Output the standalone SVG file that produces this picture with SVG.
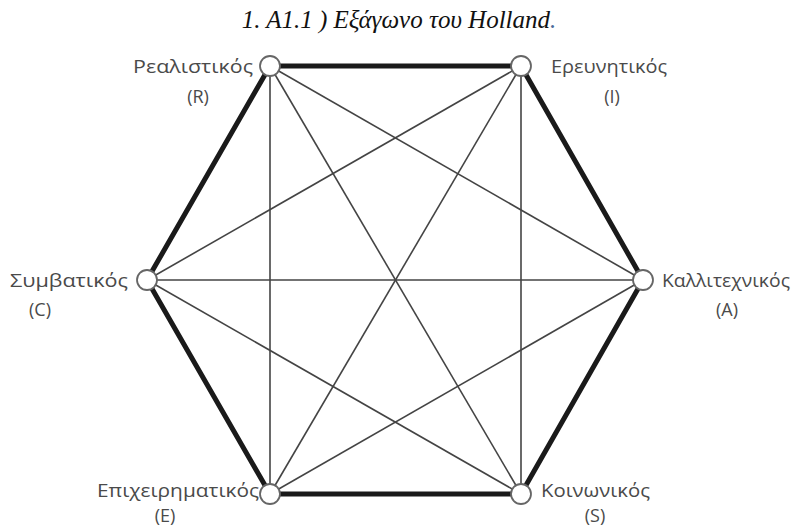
<svg xmlns="http://www.w3.org/2000/svg" width="795" height="527" viewBox="0 0 795 527">
<style>
.title{font-family:"Liberation Serif","Times New Roman",serif;font-style:italic;font-size:25px;fill:#111;}
.lbl{font-family:"Open Sans","Liberation Sans",sans-serif;font-size:18px;fill:#4a4a4a;}
.edge{stroke:#1a1a1a;stroke-width:5;stroke-linecap:round;fill:none;}
.diag{stroke:#444;stroke-width:1.6;fill:none;}
.node{fill:#fff;stroke:#666;stroke-width:1.8;}
</style>
<rect width="795" height="527" fill="#fff"/>
<text class="title" x="399" y="28" text-anchor="middle">1. A1.1 ) Εξάγωνο του Holland<tspan fill="#4a6a9a">.</tspan></text>
<g id="connectors">
<line class="diag" x1="270" y1="66" x2="643" y2="280"/>
<line class="diag" x1="270" y1="66" x2="521" y2="494"/>
<line class="diag" x1="270" y1="66" x2="270" y2="494"/>
<line class="diag" x1="521" y1="66" x2="147" y2="280"/>
<line class="diag" x1="521" y1="66" x2="270" y2="494"/>
<line class="diag" x1="521" y1="66" x2="521" y2="494"/>
<line class="diag" x1="147" y1="280" x2="643" y2="280"/>
<line class="diag" x1="643" y1="280" x2="270" y2="494"/>
<line class="diag" x1="147" y1="280" x2="521" y2="494"/>
<polygon class="edge" points="270,66 521,66 643,280 521,494 270,494 147,280"/>
</g>
<g id="node-R">
<circle class="node" cx="270" cy="66" r="10"/>
<text class="lbl" x="133" y="73" textLength="120" lengthAdjust="spacingAndGlyphs">Ρεαλιστικός</text>
<text class="lbl" x="198" y="103" text-anchor="middle">(R)</text>
</g>
<g id="node-I">
<circle class="node" cx="521" cy="66" r="10"/>
<text class="lbl" x="551" y="73" textLength="116" lengthAdjust="spacingAndGlyphs">Ερευνητικός</text>
<text class="lbl" x="612" y="103" text-anchor="middle">(I)</text>
</g>
<g id="node-A">
<circle class="node" cx="643" cy="280" r="10"/>
<text class="lbl" x="662" y="287" textLength="128" lengthAdjust="spacingAndGlyphs">Καλλιτεχνικός</text>
<text class="lbl" x="727" y="316" text-anchor="middle">(A)</text>
</g>
<g id="node-S">
<circle class="node" cx="521" cy="494" r="10"/>
<text class="lbl" x="541" y="497" textLength="109" lengthAdjust="spacingAndGlyphs">Κοινωνικός</text>
<text class="lbl" x="595" y="522" text-anchor="middle">(S)</text>
</g>
<g id="node-E">
<circle class="node" cx="270" cy="494" r="10"/>
<text class="lbl" x="97" y="497" textLength="162" lengthAdjust="spacingAndGlyphs">Επιχειρηματικός</text>
<text class="lbl" x="165" y="522" text-anchor="middle">(E)</text>
</g>
<g id="node-C">
<circle class="node" cx="147" cy="280" r="10"/>
<text class="lbl" x="10" y="287" textLength="118" lengthAdjust="spacingAndGlyphs">Συμβατικός</text>
<text class="lbl" x="40" y="316" text-anchor="middle">(C)</text>
</g>
</svg>
